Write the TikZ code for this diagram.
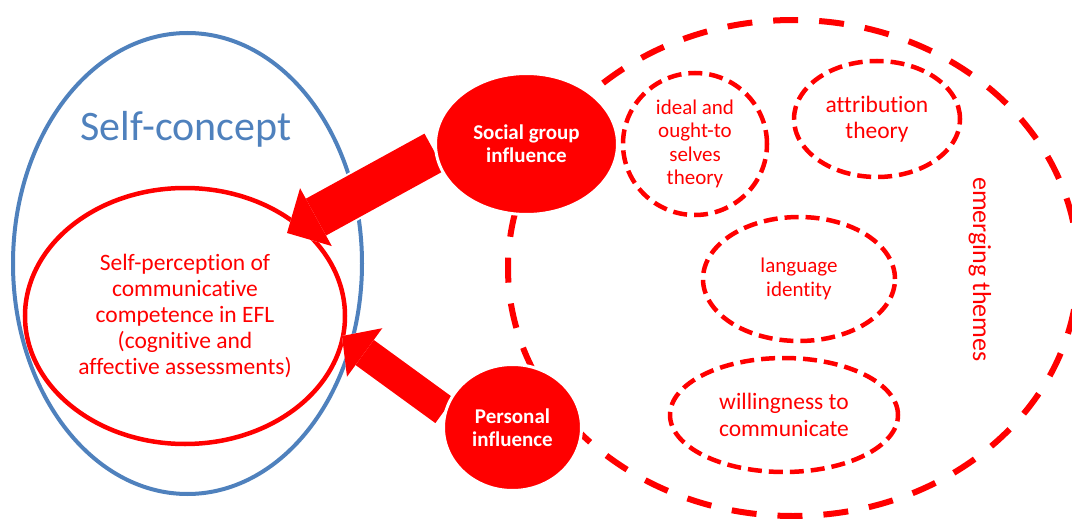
\documentclass[tikz,border=0pt]{standalone}
\usepackage{fontspec}
\setmainfont{Carlito}[Ligatures=CommonOff]
\usetikzlibrary{shapes.geometric,arrows.meta}
\definecolor{conceptblue}{RGB}{79,129,189}
\pgfdeclarelayer{front}
\pgfsetlayers{main,front}

\begin{document}
\begin{tikzpicture}[x=1pt,y=-1pt,
  theme/.style={ellipse,inner sep=0pt,align=center,draw=red,line width=4.5pt,
    dash pattern=on 14pt off 7pt,text=red,font=\fontsize{23.5pt}{26pt}\selectfont},
  influence/.style={ellipse,inner sep=0pt,align=center,fill=red,draw=white,
    line width=3pt,text=white,font=\bfseries\fontsize{21pt}{23pt}\selectfont},
  blockborder/.style={white,line width=#1},
  blockbody/.style={red,line width=#1}]
  \useasboundingbox (0,0) rectangle (1072,519);
  %Nodes
  \node at (187.5,263.5) [ellipse,draw=conceptblue,line width=4pt,minimum width=349pt,minimum height=461pt] (concept) {};
  \node at (186,140) [anchor=base,text=conceptblue,font=\fontsize{42pt}{50pt}\selectfont] (concepttitle) {Self-concept};
  \node at (185,316) [ellipse,draw=red,line width=4.5pt,minimum width=320pt,minimum height=256pt,inner sep=0pt,align=center,text=red,font=\fontsize{23.5pt}{25.8pt}\selectfont] (perception) {Self-perception of\\communicative\\competence in EFL\\(cognitive and\\affective assessments)};

  \node at (793,268) [ellipse,draw=red,line width=6pt,dash pattern=on 25pt off 21pt,minimum width=570pt,minimum height=496pt] (emerging) {};
  \node at (973,269.5) [anchor=base,rotate=-90,text=red,font=\fontsize{26pt}{30pt}\selectfont] (emerginglabel) {emerging themes};

  \node at (695,144) [theme,minimum width=144pt,minimum height=142pt,font=\fontsize{21pt}{23.3pt}\selectfont] (ideal) {ideal and\\ought-to\\selves\\theory};
  \node at (877,119) [theme,minimum width=166pt,minimum height=116pt] (attribution) {attribution\\theory};
  \node at (799,279) [theme,minimum width=192pt,minimum height=124pt,font=\fontsize{21pt}{24pt}\selectfont] (identity) {language\\identity};
  \node at (784,415) [theme,minimum width=228pt,minimum height=114pt,font=\fontsize{23.5pt}{27pt}\selectfont] (willingness) {willingness to\\communicate};

  \begin{pgfonlayer}{front}
    \node at (526.5,144) [influence,minimum width=182pt,minimum height=141pt] (social) {Social group\\influence};
    \node at (512.5,427.5) [influence,minimum width=138pt,minimum height=126pt] (personal) {Personal\\influence};
  \end{pgfonlayer}

  \coordinate (groupTip) at (287,233);
  \coordinate (personalTip) at (342,336);

  %Arrows
  \draw[blockborder=46pt,-{Triangle[length=37pt,width=74pt,line width=0pt]}] (social.185) -- (groupTip);
  \draw[blockbody=42pt,-{Triangle[length=33pt,width=66pt,line width=0pt]}] (social.185) -- (groupTip);
  \draw[blockborder=35pt,-{Triangle[length=32pt,width=69pt,line width=0pt]}] (personal.166) -- (personalTip);
  \draw[blockbody=31pt,-{Triangle[length=28pt,width=60pt,line width=0pt]}] (personal.166) -- (personalTip);
\end{tikzpicture}
\end{document}
